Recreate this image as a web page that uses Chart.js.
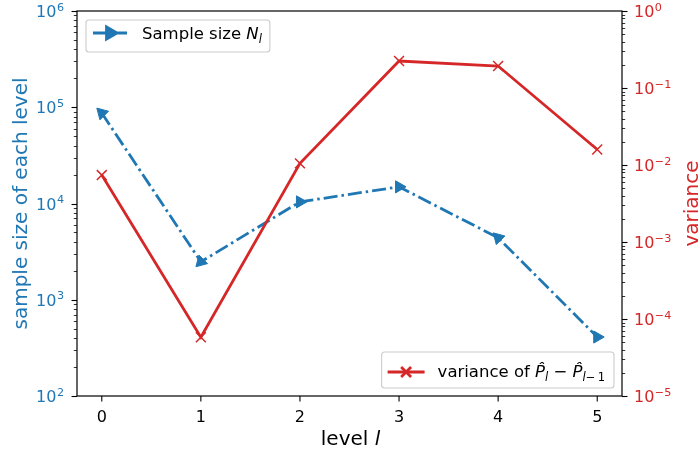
<!DOCTYPE html>
<html><head><meta charset="utf-8">
<script src="https://cdn.jsdelivr.net/npm/chart.js@4.4.1/dist/chart.umd.min.js"></script>
<style>html,body{margin:0;padding:0;background:#fff;overflow:hidden}#wrap{width:700px;height:451px;position:relative}</style>
</head><body><div id="wrap"><canvas id="c" width="700" height="451"></canvas></div>
<script>
const levels = [0, 1, 2, 3, 4, 5];
const sampleSizes = [87000, 2480, 10400, 14900, 4400, 410];
const variances = [0.0074, 0.000058, 0.0105, 0.224, 0.193, 0.0159];
const xTickLabels = ['0', '1', '2', '3', '4', '5'];
const leftTickValues = [1e2, 1e3, 1e4, 1e5, 1e6];
const leftTickExponents = ['2', '3', '4', '5', '6'];
const rightTickValues = [1e-5, 1e-4, 1e-3, 1e-2, 1e-1, 1];
const rightTickExponents = ['\u22125', '\u22124', '\u22123', '\u22122', '\u22121', '0'];
const blueMarkerAngles = [-45, -135, 90, 90, -45, 90];
const xTitle = [{t: 'level '}, {t: 'l', it: true}];
const leftTitle = 'sample size of each level';
const rightTitle = 'variance';
const legend1 = [{t: 'Sample size '}, {t: 'N', it: true}, {t: 'l', it: true, sub: true}];
const legend2 = [{t: 'variance of '}, {t: 'P\u0302', it: true}, {t: 'l', it: true, sub: true}, {t: ' \u2212 '}, {t: 'P\u0302', it: true}, {t: 'l', it: true, sub: true}, {t: '\u2212\u20091', sub: true}];

const BLUE = '#1f77b4', RED = '#d62728';
const FONT = '"DejaVu Sans", sans-serif';
const DASHDOT = [14, 4, 2.5, 4];

function logTicks(min, max) {
  const out = [];
  for (let e = Math.round(Math.log10(min)); e <= Math.round(Math.log10(max)); e++) {
    for (let m = 1; m <= 9; m++) {
      const v = m * Math.pow(10, e);
      if (v >= min * 0.999 && v <= max * 1.001) out.push(v);
    }
  }
  return out;
}
function isPow10(v) { const l = Math.log10(v); return Math.abs(l - Math.round(l)) < 1e-9; }

function drawRuns(ctx, x, y, runs, size, measureOnly) {
  for (const r of runs) {
    const fs = r.sub ? size * 0.7 : size;
    ctx.font = (r.it ? 'italic ' : '') + fs + 'px ' + FONT;
    if (!measureOnly) ctx.fillText(r.t, x, y + (r.sub ? size * 0.25 : 0));
    x += ctx.measureText(r.t).width;
  }
  return x;
}

function roundRect(ctx, x, y, w, h, r) {
  ctx.beginPath();
  ctx.moveTo(x + r, y); ctx.lineTo(x + w - r, y); ctx.quadraticCurveTo(x + w, y, x + w, y + r);
  ctx.lineTo(x + w, y + h - r); ctx.quadraticCurveTo(x + w, y + h, x + w - r, y + h);
  ctx.lineTo(x + r, y + h); ctx.quadraticCurveTo(x, y + h, x, y + h - r);
  ctx.lineTo(x, y + r); ctx.quadraticCurveTo(x, y, x + r, y); ctx.closePath();
}

const TF = 16, EF = 11.2;
function drawPowLabel(ctx, x, y, exp, align) {
  ctx.font = TF + 'px ' + FONT;
  const bw = ctx.measureText('10').width;
  ctx.font = EF + 'px ' + FONT;
  const ew = ctx.measureText(exp).width;
  const x0 = align === 'right' ? x - bw - ew - 0.5 : x;
  ctx.font = TF + 'px ' + FONT;
  ctx.fillText('10', x0, y + 6);
  ctx.font = EF + 'px ' + FONT;
  ctx.fillText(exp, x0 + bw + 0.5, y - 0.5);
}

const decor = {
  id: 'decor',
  afterDraw(chart) {
    const ctx = chart.ctx, a = chart.chartArea;
    ctx.save();
    ctx.textBaseline = 'alphabetic';
    ctx.strokeStyle = '#000'; ctx.lineWidth = 1.2; ctx.setLineDash([]);
    ctx.strokeRect(a.left, a.top, a.right - a.left, a.bottom - a.top);
    const sx = chart.scales.x, sy = chart.scales.y, sy1 = chart.scales.y1;
    ctx.fillStyle = '#000'; ctx.font = TF + 'px ' + FONT; ctx.textAlign = 'center';
    sx.ticks.forEach(t => {
      const p = sx.getPixelForValue(t.value);
      ctx.lineWidth = 1.1; ctx.beginPath(); ctx.moveTo(p, a.bottom); ctx.lineTo(p, a.bottom + 5.5); ctx.stroke();
      const i = levels.indexOf(t.value);
      if (i >= 0) ctx.fillText(xTickLabels[i], p, a.bottom + 25.7);
    });
    ctx.textAlign = 'left';
    [[sy, -1, a.left, leftTickValues, leftTickExponents, BLUE], [sy1, 1, a.right, rightTickValues, rightTickExponents, RED]].forEach(([s, dir, x0, vals, exps, col]) => {
      s.ticks.forEach(t => {
        const py = s.getPixelForValue(t.value);
        const p = Math.round(py) + 0.5;
        const maj = isPow10(t.value);
        ctx.strokeStyle = '#000';
        ctx.lineWidth = maj ? 1.1 : 0.8;
        ctx.beginPath(); ctx.moveTo(x0, p); ctx.lineTo(x0 + dir * (maj ? 5.5 : 3.2), p); ctx.stroke();
        const i = vals.findIndex(v => Math.abs(v / t.value - 1) < 1e-6);
        if (i >= 0) {
          ctx.fillStyle = col;
          if (dir < 0) drawPowLabel(ctx, x0 - 13, py, exps[i], 'right');
          else drawPowLabel(ctx, x0 + 12, py, exps[i], 'left');
        }
      });
    });
    const cy = (a.top + a.bottom) / 2;
    ctx.font = '20px ' + FONT; ctx.textAlign = 'center';
    ctx.fillStyle = BLUE;
    ctx.save(); ctx.translate(27, cy); ctx.rotate(-Math.PI / 2); ctx.fillText(leftTitle, 0, 0); ctx.restore();
    ctx.fillStyle = RED;
    ctx.save(); ctx.translate(698, cy); ctx.rotate(-Math.PI / 2); ctx.fillText(rightTitle, 0, 0); ctx.restore();
    ctx.fillStyle = '#000'; ctx.textAlign = 'left';
    const w = drawRuns(ctx, 0, 0, xTitle, 20, true);
    drawRuns(ctx, (a.left + a.right) / 2 + 1 - w / 2, 445, xTitle, 20);

    const LF = 16.5;
    let lx = a.left + 9, ly = a.top + 9;
    let tw = drawRuns(ctx, 0, 0, legend1, LF, true);
    let bw = 56 + tw + 8, bh = 32;
    ctx.fillStyle = 'rgba(255,255,255,0.8)'; ctx.strokeStyle = '#cccccc'; ctx.lineWidth = 1.1;
    roundRect(ctx, lx, ly, bw, bh, 3); ctx.fill(); ctx.stroke();
    ctx.strokeStyle = BLUE; ctx.lineWidth = 2.8; ctx.setLineDash(DASHDOT);
    ctx.beginPath(); ctx.moveTo(lx + 7, ly + 13); ctx.lineTo(lx + 41, ly + 13); ctx.stroke();
    ctx.setLineDash([]);
    ctx.fillStyle = BLUE; ctx.strokeStyle = BLUE;
    Chart.helpers.drawPoint(ctx, {pointStyle: 'triangle', rotation: 90, radius: 7, borderWidth: 1}, lx + 24, ly + 13);
    ctx.fillStyle = '#000';
    drawRuns(ctx, lx + 56, ly + 19, legend1, LF);
    tw = drawRuns(ctx, 0, 0, legend2, LF, true);
    bw = 56 + tw + 9; bh = 36;
    lx = a.right - 8 - bw; ly = a.bottom - 8 - bh;
    ctx.fillStyle = 'rgba(255,255,255,0.8)'; ctx.strokeStyle = '#cccccc'; ctx.lineWidth = 1.1;
    roundRect(ctx, lx, ly, bw, bh, 3); ctx.fill(); ctx.stroke();
    ctx.strokeStyle = RED; ctx.lineWidth = 2.8;
    ctx.beginPath(); ctx.moveTo(lx + 6, ly + 20); ctx.lineTo(lx + 43, ly + 20); ctx.stroke();
    Chart.helpers.drawPoint(ctx, {pointStyle: 'crossRot', rotation: 0, radius: 7, borderWidth: 1.5}, lx + 24.5, ly + 20);
    ctx.fillStyle = '#000';
    drawRuns(ctx, lx + 56, ly + 25, legend2, LF);
    ctx.restore();
  }
};

const fitNoPad = (dim, val) => s => { s[dim] = val; s.paddingTop = 0; s.paddingBottom = 0; s.paddingLeft = 0; s.paddingRight = 0; };
new Chart(document.getElementById('c'), {
  type: 'line',
  data: {
    datasets: [
      {
        label: 'variance',
        data: levels.map((x, i) => ({x, y: variances[i]})),
        yAxisID: 'y1', order: 0,
        borderColor: RED, backgroundColor: RED, borderWidth: 2.8,
        pointStyle: 'crossRot', pointRadius: 7, pointBorderWidth: 1.5,
        pointBorderColor: RED, tension: 0, fill: false
      },
      {
        label: 'Sample size',
        data: levels.map((x, i) => ({x, y: sampleSizes[i]})),
        yAxisID: 'y', order: 1,
        borderColor: BLUE, backgroundColor: BLUE, borderWidth: 2.8, borderDash: DASHDOT,
        pointStyle: 'triangle', pointRadius: 7, pointBorderWidth: 1, pointRotation: blueMarkerAngles,
        pointBackgroundColor: BLUE, pointBorderColor: BLUE, tension: 0, fill: false
      }
    ]
  },
  options: {
    responsive: false, animation: false, devicePixelRatio: 1,
    layout: {padding: {top: 11, left: 0, right: 0, bottom: 0}},
    plugins: {legend: {display: false}, tooltip: {enabled: false}},
    scales: {
      x: {
        type: 'linear', min: -0.25, max: 5.25,
        afterBuildTicks: s => { s.ticks = levels.map(v => ({value: v})); },
        afterFit: fitNoPad('height', 55),
        ticks: {display: false},
        grid: {display: false, drawTicks: false}, border: {display: false}
      },
      y: {
        type: 'logarithmic', position: 'left', min: leftTickValues[0], max: leftTickValues[leftTickValues.length - 1],
        afterBuildTicks: s => { s.ticks = logTicks(s.min, s.max).map(v => ({value: v})); },
        afterFit: fitNoPad('width', 77),
        ticks: {display: false},
        grid: {display: false, drawTicks: false}, border: {display: false}
      },
      y1: {
        type: 'logarithmic', position: 'right', min: rightTickValues[0], max: rightTickValues[rightTickValues.length - 1],
        afterBuildTicks: s => { s.ticks = logTicks(s.min, s.max).map(v => ({value: v})); },
        afterFit: fitNoPad('width', 78),
        ticks: {display: false},
        grid: {display: false, drawTicks: false}, border: {display: false}
      }
    }
  },
  plugins: [decor]
});
</script></body></html>
